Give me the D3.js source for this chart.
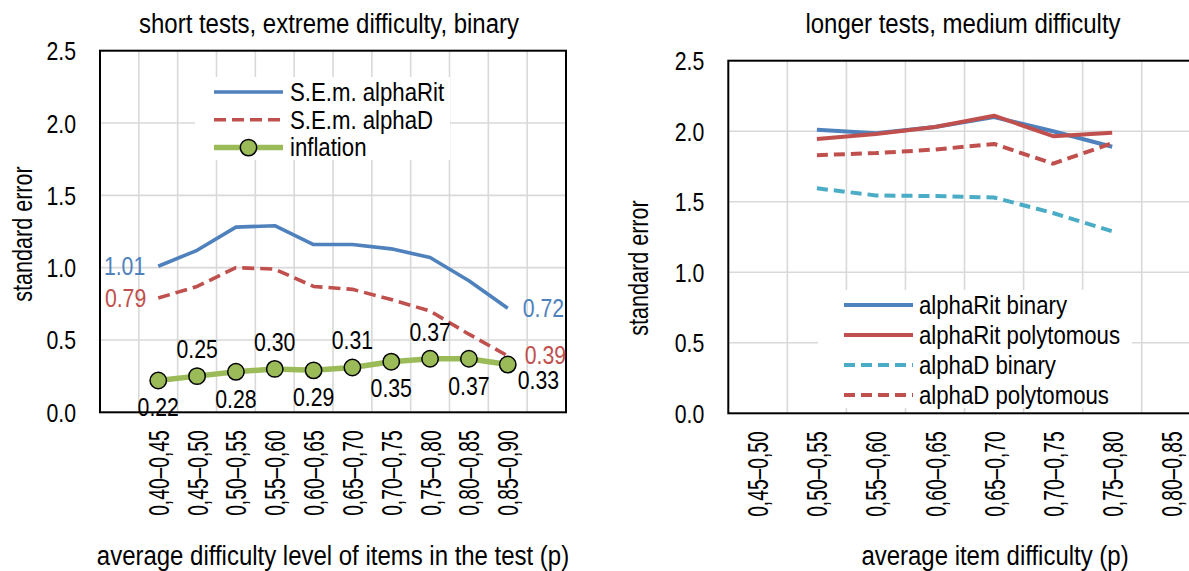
<!DOCTYPE html>
<html>
<head>
<meta charset="utf-8">
<script src="https://cdn.jsdelivr.net/npm/d3@7"></script>
<style>
  html, body { margin: 0; padding: 0; background: #fff; }
  svg { display: block; }
  text { font-family: "Liberation Sans", Arial, Helvetica, sans-serif; }
</style>
</head>
<body>
<svg id="chart" width="1189" height="571"></svg>
<script>
// ---------- data: short tests, extreme difficulty, binary ----------
const shortCategories = ["0,40–0,45", "0,45–0,50", "0,50–0,55", "0,55–0,60", "0,60–0,65",
                         "0,65–0,70", "0,70–0,75", "0,75–0,80", "0,80–0,85", "0,85–0,90"];
const semAlphaRit = [1.01, 1.12, 1.28, 1.29, 1.16, 1.16, 1.13, 1.07, 0.91, 0.72];
const semAlphaD   = [0.79, 0.87, 1.00, 0.99, 0.87, 0.85, 0.78, 0.70, 0.54, 0.39];
const inflation   = [0.22, 0.25, 0.28, 0.30, 0.29, 0.31, 0.35, 0.37, 0.37, 0.33];

// ---------- data: longer tests, medium difficulty ----------
const longCategories = ["0,45–0,50", "0,50–0,55", "0,55–0,60", "0,60–0,65",
                        "0,65–0,70", "0,70–0,75", "0,75–0,80", "0,80–0,85"];
const alphaRitBinary = [null, 2.01, 1.985, 2.03, 2.10, 2.00, 1.89, null];
const alphaRitPoly   = [null, 1.945, 1.98, 2.03, 2.11, 1.965, 1.99, null];
const alphaDBinary   = [null, 1.595, 1.545, 1.54, 1.53, 1.42, 1.29, null];
const alphaDPoly     = [null, 1.83, 1.845, 1.87, 1.91, 1.77, 1.915, null];

const yTickValues = [0, 0.5, 1.0, 1.5, 2.0, 2.5];

// ---------- styling ----------
const BLUE = "#4f81bd", RED = "#c0504d", GREEN = "#9bbb59", CYAN = "#4bacc6";
const GRID = "#d9d9d9";
const HSCALE = 0.888;   // condensed horizontal text
const NUMSCALE = 0.85;  // condensed numbers
const ROT_LEN = 0.74, ROT_THICK = 1.12; // rotated category labels

const svg = d3.select("#chart");

function addText(parent, x, y, str, o = {}) {
  const rot = o.rotate || 0;
  const sx = o.sx || (rot ? 0.83 : HSCALE);
  const sy = o.sy || (rot ? 1.07 : 1);
  return parent.append("text")
    .attr("transform", `translate(${x},${y})${rot ? ` rotate(${rot})` : ""} scale(${sx},${sy})`)
    .attr("text-anchor", o.anchor || "start")
    .attr("dy", o.dy === undefined ? "0.35em" : o.dy)
    .attr("fill", o.fill || "#000")
    .style("font-size", `${o.size || 25}px`)
    .text(str);
}

// Frame, gridlines and both axes for one panel; returns its scales.
function drawPanel(cfg) {
  const g = svg.append("g");
  const { left, right, top, bottom } = cfg.box;
  const x = d3.scaleBand().domain(cfg.slots).range([left, right]);
  const y = d3.scaleLinear().domain([0, 2.5]).range([bottom, top]);

  const grid = g.append("g").attr("stroke", GRID).attr("stroke-width", 1.6);
  grid.selectAll(".gh").data(yTickValues.filter(v => v > 0 && v < 2.5)).join("line")
    .attr("x1", left).attr("x2", right)
    .attr("y1", d => y(d)).attr("y2", d => y(d));
  grid.selectAll(".gv").data(cfg.slots.slice(1)).join("line")
    .attr("x1", d => x(d)).attr("x2", d => x(d))
    .attr("y1", top).attr("y2", bottom);

  // y axis
  const ya = g.append("g").attr("transform", `translate(${left},0)`)
    .call(d3.axisLeft(y).tickValues(yTickValues).tickFormat(d3.format(".1f"))
      .tickSize(0).tickPadding(24 / NUMSCALE));
  ya.select(".domain").remove();
  ya.attr("font-family", null);
  ya.selectAll("text")
    .attr("transform", `scale(${NUMSCALE},1)`)
    .attr("dy", "0.36em")
    .attr("fill", "#000")
    .style("font-size", "25px");

  // x axis (rotated category labels)
  const xa = g.append("g").attr("transform", `translate(0,${bottom})`)
    .call(d3.axisBottom(x).tickValues(cfg.labelSlots).tickFormat(cfg.labelOf).tickSize(0));
  xa.select(".domain").remove();
  xa.attr("font-family", null);
  xa.selectAll("text")
    .attr("transform", `rotate(-90) scale(${ROT_LEN},${ROT_THICK})`)
    .attr("x", -18 / ROT_LEN).attr("y", 0).attr("dy", "0.36em")
    .attr("text-anchor", "end")
    .attr("fill", "#000")
    .style("font-size", "26px");

  // frame
  g.append("rect")
    .attr("x", left).attr("y", top)
    .attr("width", right - left).attr("height", bottom - top)
    .attr("fill", "none").attr("stroke", "#000").attr("stroke-width", 2);

  addText(svg, cfg.titleX, 33, cfg.title, { anchor: "middle", size: 27, dy: 0 });
  addText(svg, cfg.xTitleX, 565, cfg.xTitle, { anchor: "middle", size: 27, dy: 0 });
  addText(svg, cfg.yTitlePos[0], cfg.yTitlePos[1], "standard error",
          { anchor: "middle", size: 26, rotate: -90 });

  return { g, x, y, cx: d => x(d) + x.bandwidth() / 2 };
}

// ================= left panel =================
const L = drawPanel({
  box: { left: 100, right: 566, top: 50.7, bottom: 412.3 },
  slots: d3.range(-1, shortCategories.length + 1),
  labelSlots: d3.range(shortCategories.length),
  labelOf: i => shortCategories[i],
  title: "short tests, extreme difficulty, binary",
  titleX: 329,
  xTitle: "average difficulty level of items in the test (p)",
  xTitleX: 333,
  yTitlePos: [22, 234]
});

// legend (white panel hides grid behind it)
const legL = L.g.append("g");
legL.append("rect").attr("x", 195).attr("y", 77).attr("width", 255).attr("height", 83).attr("fill", "#fff");

const lineL = (vals) => d3.line().x((d, i) => L.cx(i)).y(d => L.y(d))(vals);

L.g.append("path").attr("d", lineL(semAlphaRit))
  .attr("fill", "none").attr("stroke", BLUE).attr("stroke-width", 3.6).attr("stroke-linejoin", "round");
L.g.append("path").attr("d", lineL(semAlphaD))
  .attr("fill", "none").attr("stroke", RED).attr("stroke-width", 3.6)
  .attr("stroke-dasharray", "12,6").attr("stroke-linejoin", "round");
L.g.append("path").attr("d", lineL(inflation))
  .attr("fill", "none").attr("stroke", GREEN).attr("stroke-width", 5.5).attr("stroke-linejoin", "round");
L.g.append("g").selectAll("circle").data(inflation).join("circle")
  .attr("cx", (d, i) => L.cx(i)).attr("cy", d => L.y(d)).attr("r", 8.2)
  .attr("fill", GREEN).attr("stroke", "#000").attr("stroke-width", 1.5);

// end labels of the two S.E.m. series
const last = shortCategories.length - 1;
const num = { sx: NUMSCALE };
addText(L.g, L.cx(0) - 13, L.y(semAlphaRit[0]), semAlphaRit[0].toFixed(2), { ...num, anchor: "end", fill: BLUE });
addText(L.g, L.cx(0) - 12, L.y(semAlphaD[0]), semAlphaD[0].toFixed(2), { ...num, anchor: "end", fill: RED });
addText(L.g, L.cx(last) + 15, L.y(semAlphaRit[last]), semAlphaRit[last].toFixed(2), { ...num, fill: BLUE });
addText(L.g, L.cx(last) + 17, L.y(semAlphaD[last]) - 1, semAlphaD[last].toFixed(2), { ...num, fill: RED });

// inflation labels alternate below / above the markers; the last one sits to the right
inflation.forEach((v, i) => {
  if (i === last) {
    addText(L.g, L.cx(i) + 10, L.y(v) + 16, v.toFixed(2), num);
  } else {
    const below = i % 2 === 0;
    addText(L.g, L.cx(i), L.y(v) + (below ? 27 : -27), v.toFixed(2), { ...num, anchor: "middle" });
  }
});

// legend entries
const legRowsL = [
  { name: "S.E.m. alphaRit", color: BLUE, width: 3.6, dash: null, marker: false },
  { name: "S.E.m. alphaD", color: RED, width: 3.6, dash: "12,6", marker: false },
  { name: "inflation", color: GREEN, width: 5.5, dash: null, marker: true }
];
legRowsL.forEach((r, i) => {
  const yy = 92 + i * 27.8;
  legL.append("line").attr("x1", 214).attr("x2", 283).attr("y1", yy).attr("y2", yy)
    .attr("stroke", r.color).attr("stroke-width", r.width).attr("stroke-dasharray", r.dash);
  if (r.marker) {
    legL.append("circle").attr("cx", 248.5).attr("cy", yy).attr("r", 8.2)
      .attr("fill", GREEN).attr("stroke", "#000").attr("stroke-width", 1.5);
  }
  addText(legL, 290, yy, r.name, { size: 25 });
});

// ================= right panel =================
const R = drawPanel({
  box: { left: 728.3, right: 728.3 + 8 * 59.06, top: 60.7, bottom: 413.3 },
  slots: d3.range(longCategories.length),
  labelSlots: d3.range(longCategories.length),
  labelOf: i => longCategories[i],
  title: "longer tests, medium difficulty",
  titleX: 963,
  xTitle: "average item difficulty (p)",
  xTitleX: 995,
  yTitlePos: [638, 268]
});

const legR = R.g.append("g");
legR.append("rect").attr("x", 818).attr("y", 290).attr("width", 314).attr("height", 118).attr("fill", "#fff");

const seriesR = [
  { name: "alphaRit binary", values: alphaRitBinary, color: BLUE, dash: null },
  { name: "alphaRit polytomous", values: alphaRitPoly, color: RED, dash: null },
  { name: "alphaD binary", values: alphaDBinary, color: CYAN, dash: "11,6" },
  { name: "alphaD polytomous", values: alphaDPoly, color: RED, dash: "11,6" }
];
const lineR = d3.line().defined(d => d != null).x((d, i) => R.cx(i)).y(d => R.y(d));
seriesR.forEach(s => {
  R.g.append("path").attr("d", lineR(s.values))
    .attr("fill", "none").attr("stroke", s.color).attr("stroke-width", 4)
    .attr("stroke-dasharray", s.dash).attr("stroke-linejoin", "round");
});
seriesR.forEach((s, i) => {
  const yy = 305 + i * 30;
  legR.append("line").attr("x1", 844).attr("x2", 913).attr("y1", yy).attr("y2", yy)
    .attr("stroke", s.color).attr("stroke-width", 4).attr("stroke-dasharray", s.dash);
  addText(legR, 919, yy, s.name, { size: 25 });
});
</script>
</body>
</html>
